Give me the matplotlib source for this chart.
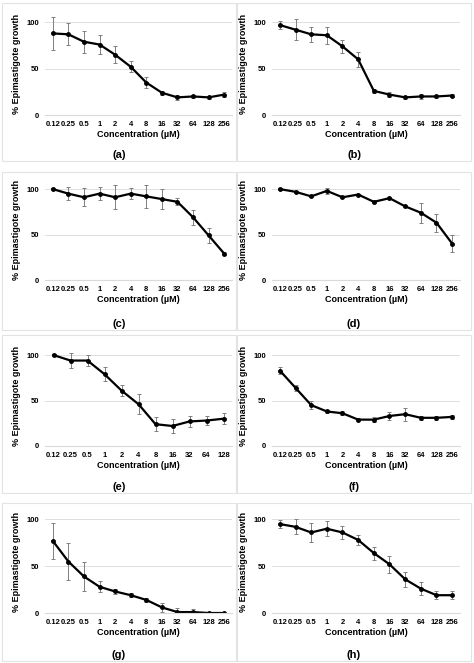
import matplotlib
matplotlib.use("Agg")
import matplotlib.pyplot as plt
from matplotlib.patches import Rectangle

conc12 = ["0.12", "0.25", "0.5", "1", "2", "4", "8", "16", "32", "64", "128", "256"]
conc11 = conc12[:11]

a_val = [88, 87, 79, 76, 65, 52, 35, 24, 19, 20, 19, 22]
a_err = [18, 12, 12, 10, 9, 6, 6, 2, 3, 2, 2, 3]
b_val = [97, 92, 87, 86, 74, 60, 26, 22, 19, 20, 20, 21]
b_err = [4, 11, 8, 9, 7, 8, 2, 3, 2, 3, 2, 2]
c_val = [100, 95, 91, 95, 91, 95, 92, 89, 86, 69, 49, 29]
c_err = [1, 7, 10, 7, 13, 6, 13, 11, 4, 8, 8, 2]
d_val = [100, 97, 92, 98, 91, 94, 86, 90, 81, 74, 63, 40]
d_err = [1, 1, 1, 3, 1, 1, 1, 1, 1, 11, 10, 9]
e_val = [100, 94, 94, 79, 61, 46, 24, 22, 27, 28, 30]
e_err = [1, 8, 6, 8, 6, 11, 8, 8, 6, 5, 6]
f_val = [83, 64, 45, 38, 36, 29, 29, 33, 35, 31, 31, 32]
f_err = [4, 3, 4, 2, 2, 2, 3, 4, 7, 2, 2, 2]
g_val = [77, 55, 39, 28, 23, 19, 14, 6, 1, 1, 0, 0]
g_err = [19, 20, 15, 6, 3, 2, 2, 5, 4, 3, 1, 0]
h_val = [95, 92, 86, 90, 86, 78, 64, 52, 36, 26, 19, 19]
h_err = [4, 8, 10, 8, 7, 5, 7, 9, 8, 7, 4, 4]

panels = [
    ("(a)", conc12, a_val, a_err), ("(b)", conc12, b_val, b_err),
    ("(c)", conc12, c_val, c_err), ("(d)", conc12, d_val, d_err),
    ("(e)", conc11, e_val, e_err), ("(f)", conc12, f_val, f_err),
    ("(g)", conc12, g_val, g_err), ("(h)", conc12, h_val, h_err),
]

W, H = 474, 663
fig = plt.figure(figsize=(W / 100, H / 100), dpi=100)
plt.rcParams['font.family'] = ['Liberation Sans', 'DejaVu Sans']

rows = [(3, 13, 115), (172, 180, 280), (335, 346, 446), (503, 510, 613)]
cols = [(2, 45, 232), (237, 272, 460)]

for i, (lab, cats, vals, errs) in enumerate(panels):
    r, c = divmod(i, 2)
    ptop, atop, abot = rows[r]
    pl, ax_l, ax_r = cols[c]
    fig.patches.append(Rectangle((pl / W, 1 - (ptop + 158) / H), 234 / W, 158 / H,
                                 transform=fig.transFigure, fill=False,
                                 edgecolor="#e3e3e3", lw=0.8))
    ax = fig.add_axes([ax_l / W, 1 - abot / H, (ax_r - ax_l) / W, (abot - atop) / H])
    x = list(range(len(cats)))
    ax.errorbar(x, vals, yerr=errs, color="black", lw=1.6, marker="o", ms=2.5,
                ecolor="#7f7f7f", elinewidth=0.7, capsize=1.5, capthick=0.7)
    ax.set_ylim(0, 110)
    ax.set_xlim(-0.5, len(cats) - 0.5)
    ax.set_yticks([0, 50, 100])
    ax.set_xticks(x)
    ax.set_xticklabels(cats)
    ax.tick_params(labelsize=5.5, length=0, pad=4)
    for t in ax.get_xticklabels() + ax.get_yticklabels():
        t.set_fontweight("bold")
    ax.grid(axis="y", color="#d9d9d9", lw=0.6)
    ax.set_axisbelow(True)
    for s in ["top", "right", "left"]:
        ax.spines[s].set_visible(False)
    ax.spines["bottom"].set_color("#d9d9d9")
    ax.set_xlabel("Concentration (µM)", fontsize=6.5, fontweight="bold", labelpad=2)
    ax.set_ylabel("% Epimastigote growth", fontsize=6.5, fontweight="bold", labelpad=4)
    fig.text((pl + 117) / W, 1 - (ptop + 152) / H, lab, ha="center", va="center",
             fontsize=8, fontweight="bold")

fig.savefig("out.png", dpi=100, facecolor="white")
